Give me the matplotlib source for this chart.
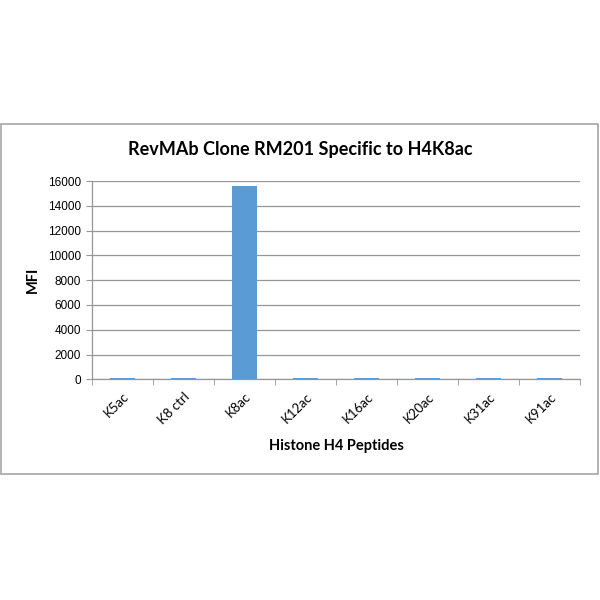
import matplotlib
matplotlib.use('Agg')
import matplotlib.pyplot as plt
from matplotlib.patches import Rectangle
import numpy as np

peptides = ['K5ac', 'K8 ctrl', 'K8ac', 'K12ac', 'K16ac', 'K20ac', 'K31ac', 'K91ac']
mfi = [130, 120, 15620, 120, 110, 120, 110, 110]
yticks = [0, 2000, 4000, 6000, 8000, 10000, 12000, 14000, 16000]

fig = plt.figure(figsize=(6, 6), dpi=100)
fig.patch.set_facecolor('white')

# outer chart border
fig.patches.append(Rectangle((1/600, 1-474/600), 597/600, 350.5/600, transform=fig.transFigure,
                             fill=False, edgecolor='#a6a6a6', linewidth=1.2))

ax = fig.add_axes([92/600, 1-379.3/600, 488/600, 198.3/600])
x = np.arange(len(peptides))
ax.bar(x, mfi, width=0.4, color='#5B9BD5', zorder=3)

ax.set_xlim(-0.5, len(peptides)-0.5)
ax.set_ylim(0, 16000)
ax.set_yticks(yticks)
ax.set_yticklabels([str(v) for v in yticks], fontsize=8.5, family='Liberation Sans')
ax.yaxis.grid(True, color='#969696', linewidth=0.9, zorder=0)
ax.tick_params(axis='y', length=4, color='#969696', pad=4)

ax.set_xticks(x)
ax.set_xticklabels(peptides, rotation=45, fontsize=9.5, family='Lato',
                   ha='right', va='top', rotation_mode='anchor')
ax.tick_params(axis='x', which='major', length=0, pad=8)
ax.set_xticks(np.arange(-0.5, len(peptides)), minor=True)
ax.tick_params(axis='x', which='minor', length=4, color='#969696')

for s in ['top', 'right']:
    ax.spines[s].set_visible(False)
for s in ['left', 'bottom']:
    ax.spines[s].set_color('#969696')
    ax.spines[s].set_linewidth(0.9)
    ax.spines[s].set_zorder(2)

fig.text(300/600, 1-150/600, 'RevMAb Clone RM201 Specific to H4K8ac', ha='center', va='center',
         fontsize=13, fontweight='bold', family='Lato')
fig.text(33/600, 1-280/600, 'MFI', ha='center', va='center', rotation=90,
         fontsize=10.5, fontweight='bold', family='Lato')
fig.text(336/600, 1-446/600, 'Histone H4 Peptides', ha='center', va='center',
         fontsize=10.5, fontweight='bold', family='Lato')

fig.savefig('out.png', dpi=100)
